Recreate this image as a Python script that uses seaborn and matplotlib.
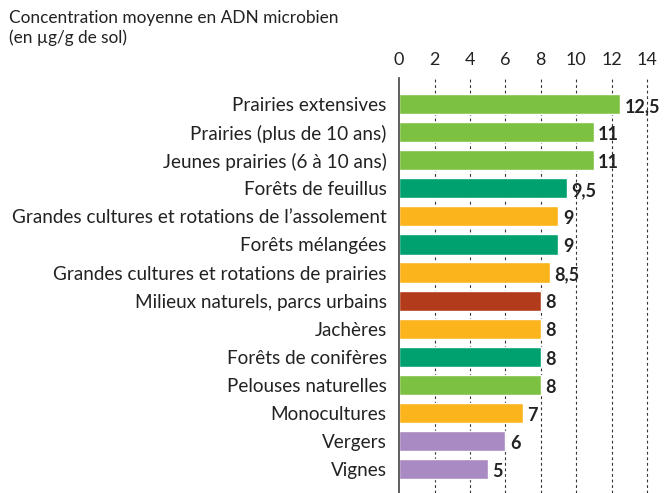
from matplotlib import pyplot as plt
import pandas as pd
import seaborn as sns

categories = [
    'Prairies extensives',
    'Prairies (plus de 10 ans)',
    'Jeunes prairies (6 à 10 ans)',
    'Forêts de feuillus',
    'Grandes cultures et rotations de l’assolement',
    'Forêts mélangées',
    'Grandes cultures et rotations de prairies',
    'Milieux naturels, parcs urbains',
    'Jachères',
    'Forêts de conifères',
    'Pelouses naturelles',
    'Monocultures',
    'Vergers',
    'Vignes',
]
values = [12.5, 11, 11, 9.5, 9, 9, 8.5, 8, 8, 8, 8, 7, 6, 5]
groups = ['prairie', 'prairie', 'prairie', 'foret', 'culture', 'foret', 'culture',
          'naturel', 'culture', 'foret', 'prairie', 'culture', 'perenne', 'perenne']
ticks = [0, 2, 4, 6, 8, 10, 12, 14]

colors = {
    'prairie': '#7DC142',
    'foret': '#00A06F',
    'culture': '#FBB41B',
    'naturel': '#B23B1B',
    'perenne': '#A98AC2',
}

df = pd.DataFrame({'cat': categories, 'val': values, 'grp': groups})

sns.set_theme(style='white')
plt.rcParams['font.family'] = ['Lato', 'DejaVu Sans']

fig = plt.figure(figsize=(6.72, 4.93), dpi=100)
ax = fig.add_axes([0.594, 0.0, 0.395, 0.842])

sns.barplot(data=df, x='val', y='cat', hue='grp', palette=colors, dodge=False,
            legend=False, width=0.72, saturation=1, ax=ax, zorder=3)

for i, v in enumerate(values):
    lab = ('%g' % v).replace('.', ',')
    ax.text(v + 0.25, i + 0.08, lab, va='center', ha='left', fontsize=13,
            fontweight='bold', color='#222222')

ax.set_xlim(0, 15)
ax.set_ylim(13.85, -0.93)
ax.set_xticks(ticks)
ax.xaxis.tick_top()
ax.tick_params(axis='x', length=0, pad=7, labelsize=13, colors='#222222')
ax.tick_params(axis='y', length=0, pad=9, labelsize=13.6, colors='#222222')
ax.set_xlabel('')
ax.set_ylabel('')
for t in ticks[1:]:
    ax.axvline(t, color='#333333', lw=0.8, ls=(0, (2.5, 2.5)), zorder=1)
for s in ['top', 'right', 'bottom']:
    ax.spines[s].set_visible(False)
ax.spines['left'].set_color('#444444')
ax.spines['left'].set_linewidth(1.2)
ax.spines['left'].set_zorder(4)

fig.text(0.014, 0.98, 'Concentration moyenne en ADN microbien\n(en µg/g de sol)',
         ha='left', va='top', fontsize=12.4, color='#222222', linespacing=1.3)

fig.savefig('out.png', dpi=100)
